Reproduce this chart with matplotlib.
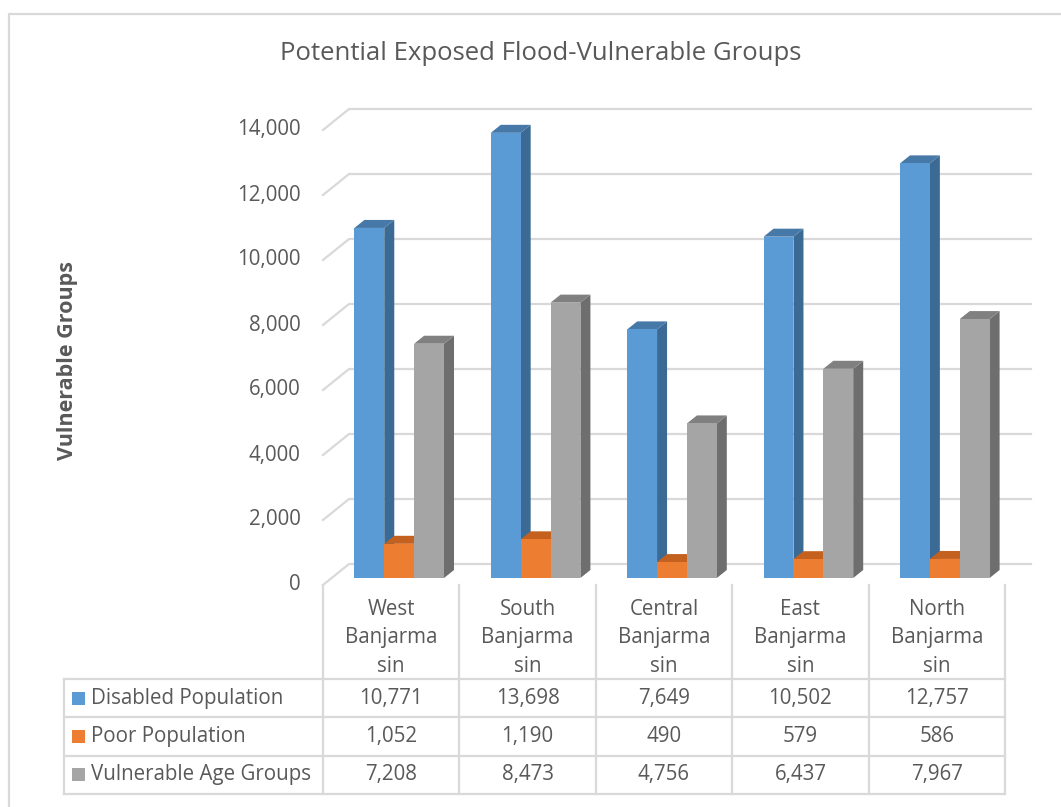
import matplotlib.pyplot as plt
import numpy as np
from matplotlib.patches import Polygon
from matplotlib.transforms import IdentityTransform

categories = ["West\nBanjarma\nsin", "South\nBanjarma\nsin", "Central\nBanjarma\nsin",
              "East\nBanjarma\nsin", "North\nBanjarma\nsin"]
series_names = ["Disabled Population", "Poor Population", "Vulnerable Age Groups"]
disabled = [10771, 13698, 7649, 10502, 12757]
poor = [1052, 1190, 490, 579, 586]
vulnerable_age = [7208, 8473, 4756, 6437, 7967]
yticks = [0, 2000, 4000, 6000, 8000, 10000, 12000, 14000]

series = [disabled, poor, vulnerable_age]
# front, side, top colours for each series
colors = [("#5B9BD5", "#3B6A94", "#4678A8"),
          ("#ED7D31", "#B35A1F", "#C4611F"),
          ("#A5A5A5", "#6E6E6E", "#808080")]

W, H = 1061, 807
plt.rcParams['font.family'] = ['Open Sans', 'DejaVu Sans']
fig = plt.figure(figsize=(W / 100, H / 100), dpi=100)

# front plane of the 3d box, in pixels
left, right = 323, 1005
bottom, top = 222, 677
ax = fig.add_axes([left / W, bottom / H, (right - left) / W, (top - bottom) / H])
ax.set_xlim(0, len(categories))
ax.set_ylim(0, 14000)
ax.axis('off')

# depth offsets (pixels, matplotlib up = +)
wall = np.array([26, 21])
bar_front = np.array([8, 7])
bar_back = np.array([18, 15])
grid_c = "#D9D9D9"
txt_c = "#595959"
fs = 14.8


def px(x, v, off=(0, 0)):
    p = ax.transData.transform((x, v))
    return p + np.asarray(off)


def line(pts, **kw):
    pts = np.array(pts)
    fig.add_artist(plt.Line2D(pts[:, 0], pts[:, 1], transform=IdentityTransform(), **kw))


# back wall gridlines with the diagonal side edge
for v in yticks:
    a = px(0, v)
    b = px(0, v, wall)
    c = px(len(categories), v, wall)
    line([a, b, c], color=grid_c, lw=1.6, zorder=1)
    ax.text(-0.165, v, f"{v:,}", ha='right', va='center', fontsize=fs, color=txt_c)

# bars
bw = 0.219
gstart = 0.5 - 1.5 * bw
for i in range(len(categories)):
    for j, vals in enumerate(series):
        v = vals[i]
        x0 = i + gstart + j * bw
        x1 = x0 + bw
        fc, sc, tc = colors[j]
        front = [px(x0, 0, bar_front), px(x1, 0, bar_front), px(x1, v, bar_front), px(x0, v, bar_front)]
        side = [px(x1, 0, bar_front), px(x1, 0, bar_back), px(x1, v, bar_back), px(x1, v, bar_front)]
        topf = [px(x0, v, bar_front), px(x1, v, bar_front), px(x1, v, bar_back), px(x0, v, bar_back)]
        for poly, col in ((side, sc), (topf, tc), (front, fc)):
            fig.add_artist(Polygon(poly, closed=True, facecolor=col, edgecolor='none',
                                   transform=IdentityTransform(), zorder=3))

# data table
row_h = 38.3
table_top = H - 679
table_rows = [table_top - k * row_h for k in range(4)]
zero_y = px(0, 0)[1]
table_left = 64
cell_w = (right - left) / len(categories)
tc_ = "#D9D9D9"
for y in table_rows:
    line([(table_left, y), (right, y)], color=tc_, lw=1.6, zorder=2)
line([(table_left, table_rows[0]), (table_left, table_rows[-1])], color=tc_, lw=1.6, zorder=2)
for k in range(len(categories) + 1):
    xk = left + k * cell_w
    line([(xk, zero_y), (xk, table_rows[-1])], color=tc_, lw=1.6, zorder=2)

for i, cat in enumerate(categories):
    xc = left + (i + 0.5) * cell_w
    fig.text(xc / W, (H - 638) / H, cat, ha='center', va='center',
             fontsize=fs, color=txt_c, linespacing=1.45)
    for r, vals in enumerate(series):
        yc = table_rows[r] - row_h / 2
        fig.text(xc / W, yc / H, f"{vals[i]:,}", ha='center', va='center',
                 fontsize=fs, color=txt_c)

for r, name in enumerate(series_names):
    yc = table_rows[r] - row_h / 2
    fig.add_artist(plt.Rectangle(((table_left + 8) / W, (yc - 6.5) / H), 13 / W, 13 / H,
                                 facecolor=colors[r][0], edgecolor='none',
                                 transform=fig.transFigure))
    fig.text((table_left + 27) / W, yc / H, name, ha='left', va='center',
             fontsize=fs, color=txt_c)

# title and axis label
fig.text(541 / W, (H - 53) / H, "Potential Exposed Flood-Vulnerable Groups",
         ha='center', va='center', fontsize=18.5, color=txt_c)
fig.text(68 / W, (H - 360) / H, "Vulnerable Groups", rotation=90, ha='center',
         va='center', fontsize=15.5, fontweight='bold', color=txt_c)

# chart border
line([(9, 0), (9, H - 14), (W + 5, H - 14)], color="#D9D9D9", lw=1.6)

fig.savefig("out.png", dpi=100)
